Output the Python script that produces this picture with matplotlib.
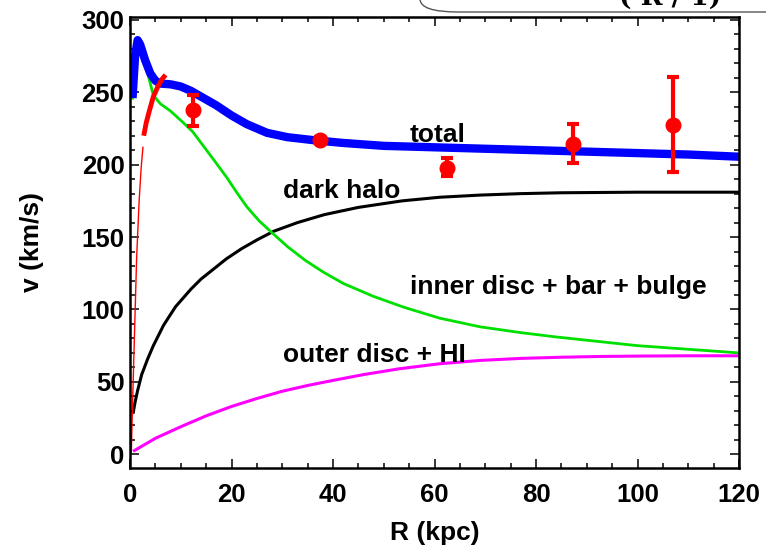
import matplotlib
matplotlib.use("Agg")
import matplotlib.pyplot as plt
from matplotlib.ticker import MultipleLocator
from matplotlib.patches import FancyBboxPatch

# ---- data ----
R_total = [0.5, 1.0, 1.5, 2.0, 3.0, 4.0, 5.0, 6.0, 8.0, 10, 12, 14, 17, 20, 23, 27, 31, 36, 42, 50, 60, 70, 80, 90, 100, 110, 120]
v_total = [246, 275, 286, 283, 272, 263, 258, 256, 255.5, 254, 251, 247, 241, 234, 228, 222, 219, 217, 215, 213, 212, 211, 210, 209, 208, 207, 205.5]

R_inner = [0.5, 1.0, 1.5, 2.0, 3.0, 4.0, 4.6, 6.0, 8, 10.5, 12.3, 13.8, 15.3, 17, 19.1, 21, 23, 25.5, 28.3, 31, 34.5, 38, 42, 48, 54, 61, 69, 77, 84, 92, 100, 110, 120]
v_inner = [245, 272, 282, 280, 270, 256, 248, 242, 237, 229, 223, 216, 209, 201, 191, 181, 171, 161, 152, 143.5, 134, 126, 118, 109, 101.5, 94, 88, 84, 81, 78, 75, 72.5, 70]

R_halo = [0.6, 1.0, 1.5, 2.3, 3.5, 4.6, 5.6, 6.6, 7.7, 9, 10.5, 12, 14, 16.5, 19, 22, 25, 28.3, 33, 38.3, 45, 53.6, 61, 69, 77, 85, 100, 120]
v_halo = [28, 36, 44, 55, 66, 75, 82, 89, 95, 102, 108, 114, 121, 128, 135, 142, 148, 154, 160, 165.5, 170.5, 175, 177.5, 179, 180, 180.6, 181, 181]

R_outer = [0.6, 5, 10, 15, 20, 25, 30, 35, 40, 46, 53, 61, 69, 77, 85, 92, 100, 110, 120]
v_outer = [2, 11, 19, 26.5, 33, 38.5, 43.5, 47.5, 51, 55, 59, 62.5, 64.8, 66.2, 67, 67.5, 67.8, 68, 68]

R_red_thin = [0.25, 0.5, 0.9, 1.3, 1.8, 2.2, 2.55]
v_red_thin = [0, 35, 85, 135, 175, 198, 212]
R_red_thick = [2.7, 3.2, 3.8, 4.6, 5.5, 6.3, 7.0]
v_red_thick = [220, 229, 237, 247, 254, 259, 262]

R_obs = [12.5, 37.5, 62.5, 87.3, 107]
v_obs = [237.5, 217, 198, 214.5, 227.5]
err_lo = [10.5, 2, 6, 13, 32.5]
err_hi = [10.5, 2, 6.5, 13.3, 33]

labels = {
    "total": (55.0, 215.5),
    "dark halo": (30.1, 176.7),
    "inner disc + bar + bulge": (55.1, 111.0),
    "outer disc + HI": (30.1, 63.8),
}

plt.rcParams['font.family'] = ['Liberation Sans', 'DejaVu Sans']
plt.rcParams['font.weight'] = 'bold'

fig = plt.figure(figsize=(7.66, 5.51), dpi=100)
ax = fig.add_axes([130/766, 1-468/551, (739-130)/766, (468-17)/551])

ax.plot(R_outer, v_outer, color='#ff00ff', lw=2.2, solid_capstyle='butt')
ax.plot(R_halo, v_halo, color='black', lw=2.2, solid_capstyle='butt')
ax.plot(R_inner, v_inner, color='#00e000', lw=2.0, solid_capstyle='butt')
ax.plot(R_red_thin, v_red_thin, color='#ff0000', lw=1.0)
ax.plot(R_total, v_total, color='#0000ff', lw=6, solid_capstyle='butt')
ax.plot(R_red_thick, v_red_thick, color='#ff0000', lw=3.5, solid_capstyle='butt')

ax.errorbar(R_obs, v_obs, yerr=[err_lo, err_hi], fmt='o', color='#ff0000',
            ms=10.5, elinewidth=3, capsize=4.5, capthick=3, zorder=5)

for txt, (x, y) in labels.items():
    ax.text(x, y, txt, fontsize=19, fontweight='bold', ha='left', va='baseline')

ax.set_xlim(0, 120)
ax.set_ylim(-9.5, 302)
ax.xaxis.set_major_locator(MultipleLocator(20))
ax.xaxis.set_minor_locator(MultipleLocator(5))
ax.yaxis.set_major_locator(MultipleLocator(50))
ax.yaxis.set_minor_locator(MultipleLocator(10))
ax.tick_params(which='both', direction='in', top=True, right=True, width=1.1, labelsize=18.5)
ax.tick_params(which='major', length=6.3)
ax.tick_params(which='minor', length=3.8)
ax.tick_params(axis='x', pad=11)
ax.tick_params(axis='y', pad=4)
for lab in ax.get_xticklabels() + ax.get_yticklabels():
    lab.set_fontweight('bold')
for s in ax.spines.values():
    s.set_linewidth(1.8)

ax.set_xlabel('R (kpc)', fontsize=19, fontweight='bold')
ax.set_ylabel('v (km/s)', fontsize=19, fontweight='bold')
ax.xaxis.set_label_coords(0.5, -0.118)
ax.yaxis.set_label_coords(-0.141, 0.5)

# partially visible rounded box at top right (cut by figure edge)
box = FancyBboxPatch((420/766, 1-12/551), 400/766, 40/551, boxstyle="round,pad=0,rounding_size=0.05",
                     transform=fig.transFigure, fill=False, edgecolor='#555555', lw=1.0, clip_on=False)
fig.patches.append(box)
fig.text(670/766, 1-6/551, "( R / 1)", fontsize=19, family='DejaVu Serif', ha='center', va='baseline')

fig.savefig('out.png', dpi=100)
